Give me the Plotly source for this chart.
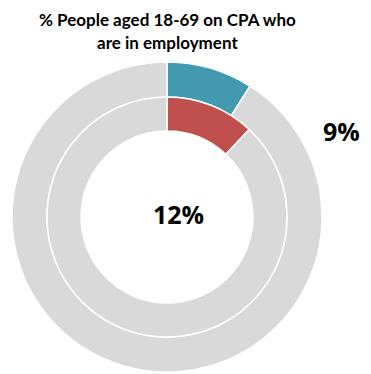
import plotly.graph_objects as go

# the page body adds an 8px margin, so the figure is drawn 8px smaller
# and every pixel position below is given in window pixels minus 8
OFF = 8
W, H = 371 - OFF, 374 - OFF

segments = ['In employment', 'Not in employment']
outer_values = [9, 91]
inner_values = [12, 88]
outer_label = '9%'
inner_label = '12%'
title_lines = ['% People aged 18-69 on CPA who', 'are in employment']

teal = '#4299B0'
red = '#C0504D'
grey = '#D9D9D9'


def px(x, y):
    return (x - OFF) / W, 1 - (y - OFF) / H


def dom(cx, cy, r):
    x0, y1 = px(cx - r, cy - r)
    x1, y0 = px(cx + r, cy + r)
    return dict(x=[x0, x1], y=[y0, y1])


cx, cy = 167, 217

fig = go.Figure()
fig.add_trace(go.Pie(
    labels=segments, values=outer_values, sort=False, direction='clockwise',
    hole=120 / 155, domain=dom(cx, cy, 155), textinfo='none', hoverinfo='label+percent',
    marker=dict(colors=[teal, grey], line=dict(color='white', width=1.5)),
    showlegend=False,
))
fig.add_trace(go.Pie(
    labels=segments, values=inner_values, sort=False, direction='clockwise',
    hole=86 / 120, domain=dom(cx, cy, 120), textinfo='none', hoverinfo='label+percent',
    marker=dict(colors=[red, grey], line=dict(color='white', width=1.5)),
    showlegend=False,
))

x, y = px(321, 131)
fig.add_annotation(text=f'<b>{outer_label}</b>', x=x, y=y, xref='paper', yref='paper',
                   xanchor='left', yanchor='middle', showarrow=False,
                   font=dict(size=25, color='black', family='Open Sans'))
x, y = px(178, 214)
fig.add_annotation(text=f'<b>{inner_label}</b>', x=x, y=y, xref='paper', yref='paper',
                   xanchor='center', yanchor='middle', showarrow=False,
                   font=dict(size=25, color='black', family='Open Sans'))

# title as two annotations; first line hangs from the top edge
for line, ty, anchor in zip(title_lines, [8, 42], ['top', 'middle']):
    x, y = px(167, ty)
    fig.add_annotation(text=f'<b>{line}</b>', x=x, y=y, xref='paper', yref='paper',
                       xanchor='center', yanchor=anchor, showarrow=False, borderpad=0,
                       font=dict(size=17, color='black', family='Lato'))

fig.update_layout(
    width=W, height=H,
    margin=dict(l=0, r=0, t=0, b=0),
    paper_bgcolor='white', plot_bgcolor='white',
)

fig.write_html('out.html')
